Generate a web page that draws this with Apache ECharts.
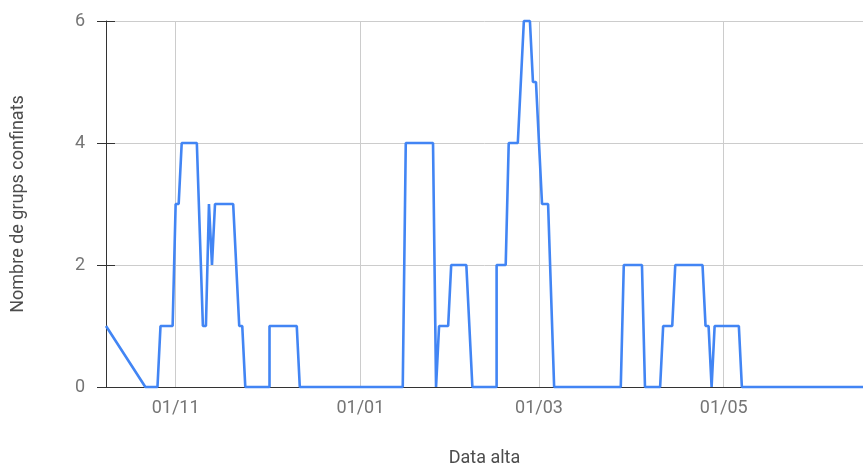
<!DOCTYPE html>
<html>
<head>
<meta charset="utf-8">
<script src="https://cdn.jsdelivr.net/npm/echarts@6/dist/echarts.min.js"></script>
<style>
  html, body { margin: 0; padding: 0; background: #fff; }
  #chart { width: 863px; height: 469px; }
</style>
</head>
<body>
<div id="chart"></div>
<script>
// dates of each reading (duplicates = same-day change)
const dates = [
  '2020-10-09', '2020-10-22', '2020-10-26', '2020-10-27', '2020-10-31',
  '2020-11-01', '2020-11-02', '2020-11-03', '2020-11-08', '2020-11-10',
  '2020-11-11', '2020-11-12', '2020-11-13', '2020-11-14', '2020-11-20',
  '2020-11-22', '2020-11-23', '2020-11-24', '2020-12-02', '2020-12-02',
  '2020-12-11', '2020-12-12', '2021-01-15', '2021-01-16', '2021-01-25',
  '2021-01-26', '2021-01-27', '2021-01-30', '2021-01-31', '2021-02-05',
  '2021-02-07', '2021-02-15', '2021-02-15', '2021-02-18', '2021-02-19',
  '2021-02-22', '2021-02-24', '2021-02-26', '2021-02-27', '2021-02-28',
  '2021-03-02', '2021-03-04', '2021-03-06', '2021-03-28', '2021-03-29',
  '2021-04-04', '2021-04-05', '2021-04-10', '2021-04-11', '2021-04-14',
  '2021-04-15', '2021-04-24', '2021-04-25', '2021-04-26', '2021-04-27',
  '2021-04-28', '2021-05-06', '2021-05-07', '2021-06-16'
];
const groups = [
  1, 0, 0, 1, 1,
  3, 3, 4, 4, 1,
  1, 3, 2, 3, 3,
  1, 1, 0, 0, 1,
  1, 0, 0, 4, 4,
  0, 1, 1, 2, 2,
  0, 0, 2, 2, 4,
  4, 6, 6, 5, 5,
  3, 3, 0, 0, 2,
  2, 0, 0, 1, 1,
  2, 2, 1, 1, 0,
  1, 1, 0, 0
];
const xTicks = ['2020-11-01', '2021-01-01', '2021-03-01', '2021-05-01'];
const xMin = '2020-10-09';
const xMax = '2021-06-16';
const yTicks = [0, 2, 4, 6];

const toTime = s => {
  const p = s.split('-').map(Number);
  return new Date(p[0], p[1] - 1, p[2]).getTime();
};
const pad = n => (n < 10 ? '0' : '') + n;

const chart = echarts.init(document.getElementById('chart'));
const labelColor = '#757575';
const nameColor = '#4d4d4d';
const yAxisBase = {
  type: 'value',
  min: yTicks[0],
  max: yTicks[yTicks.length - 1],
  interval: 2,
  position: 'left'
};

chart.setOption({
  animation: false,
  backgroundColor: '#fff',
  grid: { left: 106, right: 0, top: 21, bottom: 82, outerBoundsMode: 'none' },
  xAxis: {
    type: 'value',
    min: toTime(xMin),
    max: toTime(xMax),
    name: 'Data alta',
    nameLocation: 'middle',
    nameGap: 62,
    nameTextStyle: { color: nameColor, fontSize: 18, fontFamily: 'Roboto' },
    axisLine: { lineStyle: { color: '#333', width: 1 } },
    axisTick: { show: false, customValues: xTicks.map(toTime) },
    axisLabel: {
      customValues: xTicks.map(toTime),
      color: labelColor,
      fontSize: 18,
      fontFamily: 'Roboto',
      margin: 12,
      formatter: v => {
        const d = new Date(v);
        return pad(d.getDate()) + '/' + pad(d.getMonth() + 1);
      }
    },
    splitLine: { show: true, lineStyle: { color: '#cccccc', width: 1 } }
  },
  yAxis: [
    Object.assign({}, yAxisBase, {
      name: 'Nombre de grups confinats',
      nameLocation: 'middle',
      nameGap: 79,
      nameTextStyle: { color: nameColor, fontSize: 18, fontFamily: 'Roboto' },
      axisLine: { show: true, lineStyle: { color: '#333', width: 1 } },
      axisTick: { show: true, length: 9, lineStyle: { color: '#333' } },
      axisLabel: { color: labelColor, fontSize: 18, fontFamily: 'Roboto', margin: 21 },
      splitLine: { show: true, lineStyle: { color: '#cccccc', width: 1 } }
    }),
    Object.assign({}, yAxisBase, {
      axisLine: { show: false },
      axisTick: { show: true, inside: true, length: 9, lineStyle: { color: '#333' } },
      axisLabel: { show: false },
      splitLine: { show: false }
    })
  ],
  series: [{
    type: 'line',
    data: dates.map((d, i) => [toTime(d), groups[i]]),
    showSymbol: false,
    symbol: 'none',
    lineStyle: { color: '#4285F4', width: 2.6 },
    itemStyle: { color: '#4285F4' },
    clip: false
  }]
});
</script>
</body>
</html>
